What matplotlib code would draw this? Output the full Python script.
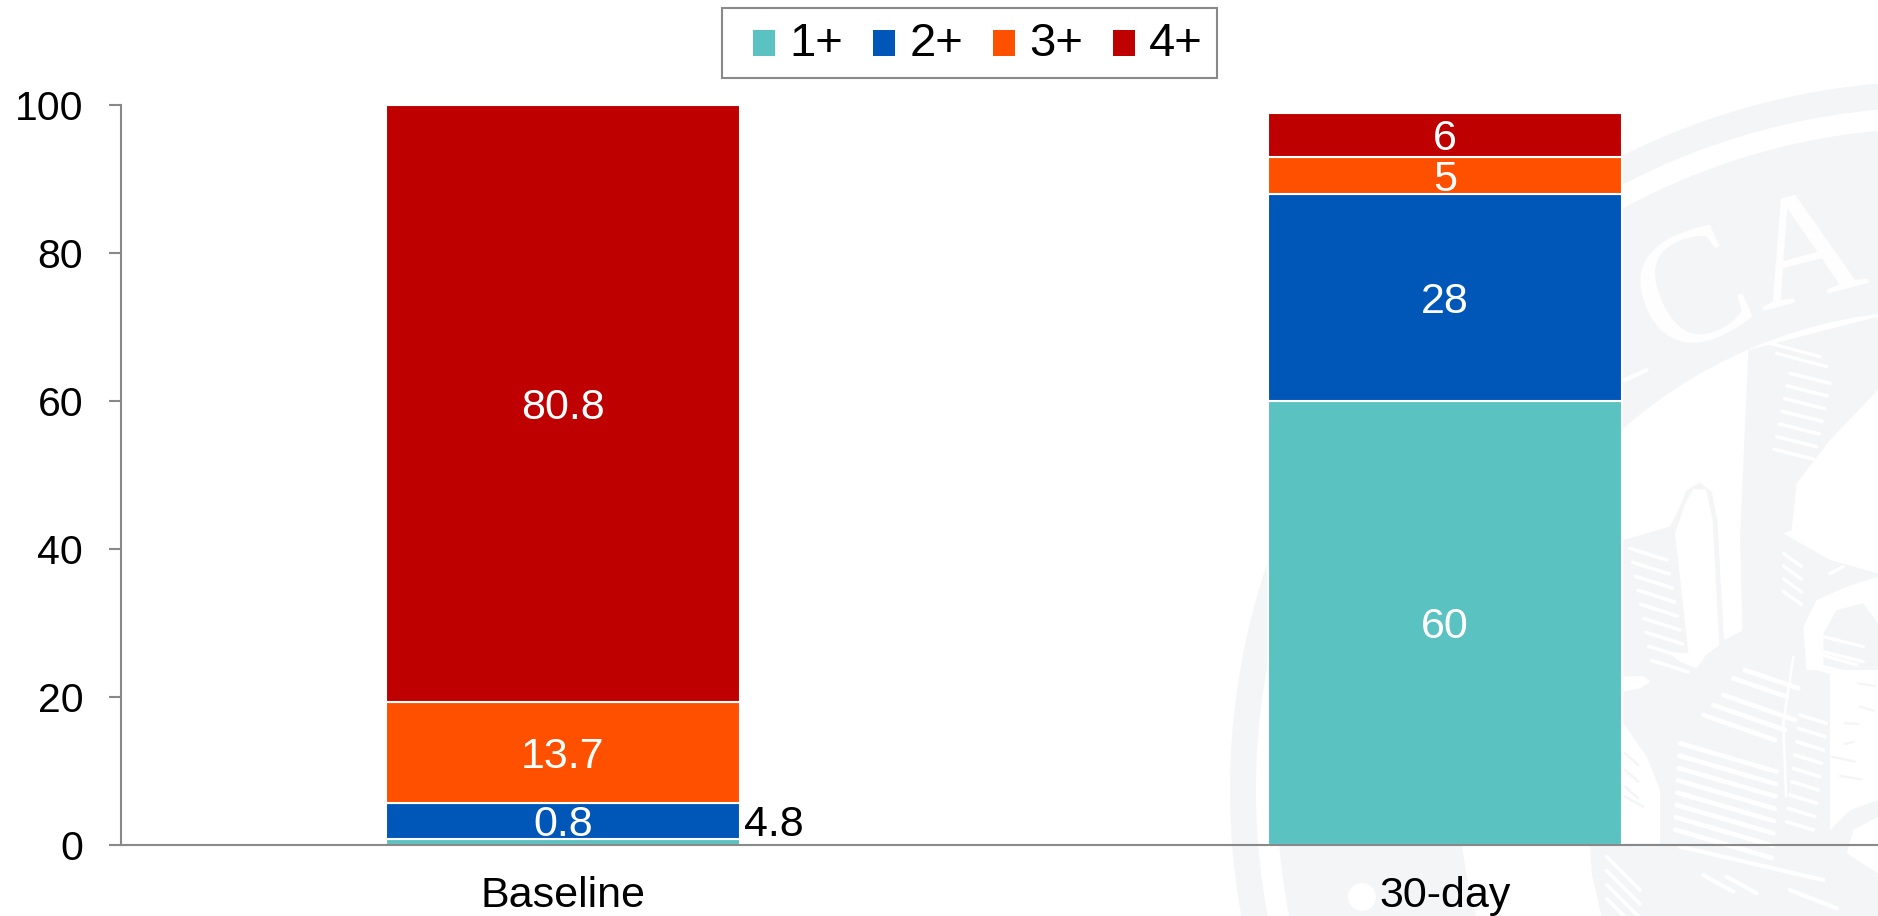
import matplotlib
matplotlib.use("Agg")
import matplotlib.pyplot as plt
from matplotlib.patches import Circle, Polygon, Rectangle

plt.rcParams['font.family'] = ['Liberation Sans', 'DejaVu Sans']

timepoints = ["Baseline", "30-day"]
grades = ["1+", "2+", "3+", "4+"]
grade_1 = [0.8, 60]
grade_2 = [4.8, 28]
grade_3 = [13.7, 5]
grade_4 = [80.8, 6]
colors = ["#5AC2C0", "#0057B8", "#FF5000", "#BE0000"]
y_ticks = [0, 20, 40, 60, 80, 100]

W, H = 1878, 916
SEAL = "#F4F5F7"
AXIS = "#898989"


def z5(x, y):
    return (1530 + x / 3, 70 + y / 3)


def z6(x, y):
    return (1530 + x / 3, 370 + y / 3)


def z7(x, y):
    return (1530 + x / 3, 640 + y / 3)


def shape(bg, conv, pts, color=SEAL):
    bg.add_patch(Polygon([conv(*p) for p in pts], closed=True, fc=color, ec="none"))


def strokes(bg, conv, start, end, step, n, lw=3.0, color="white"):
    # a run of parallel engraving lines
    for i in range(n):
        a = conv(start[0] + step[0] * i, start[1] + step[1] * i)
        b = conv(end[0] + step[0] * i, end[1] + step[1] * i)
        bg.plot([a[0], b[0]], [a[1], b[1]], color=color, lw=lw, solid_capstyle="round")


def draw_seal(bg):
    # rings of the seal
    centre = (1939, 790)
    for r, c in [(709, SEAL), (683, "white"), (662, SEAL), (480, "white")]:
        bg.add_patch(Circle(centre, r, fc=c, ec="none"))
    bg.add_patch(Circle((1362, 897), 14, fc="white", ec="none"))

    bg.text(1695, 299, "C", family="Liberation Serif", fontsize=118, color="white",
            rotation=24, ha="center", va="center")
    bg.text(1806, 260, "A", family="Liberation Serif", fontsize=112, color="white",
            rotation=15, ha="center", va="center")
    strokes(bg, z6, (285, 30), (350, 0), (0, 0), 1, lw=3.0)

    # column and shoulder at the top of the figure
    shape(bg, z6, [(655, -60), (1044, -160), (1044, 60), (900, 210), (800, 340), (785, 480),
                   (760, 490), (900, 570), (1044, 610), (1044, 900), (640, 900), (630, 500)])
    # left arm with its thin outline
    shape(bg, z6, [(280, 510), (420, 470), (450, 410), (470, 360), (510, 338), (545, 365),
                   (562, 450), (582, 810), (640, 780), (640, 900), (280, 900)])
    shape(bg, z6, [(435, 490), (468, 395), (490, 358), (528, 358), (548, 450),
                   (568, 825), (480, 890)], "white")
    # body below the column
    shape(bg, z7, [(280, 90), (900, 90), (900, 570), (960, 510), (1044, 480), (1044, 530),
                   (970, 570), (950, 640), (1044, 700), (1044, 830), (390, 830), (390, 450),
                   (350, 350), (280, 250)])
    shape(bg, z7, [(180, 610), (390, 610), (390, 830), (215, 830), (185, 700)])
    shape(bg, z7, [(280, 110), (340, 108), (362, 125), (330, 145), (280, 155)], "white")
    shape(bg, z7, [(410, 35), (470, 40), (560, 0), (500, 85), (450, 65)], "white")

    # rounded opening with the inner wing
    shape(bg, z6, [(820, 770), (860, 690), (950, 650), (1044, 620), (1044, 900), (830, 900)], "white")
    shape(bg, z6, [(880, 790), (920, 720), (1000, 700), (1044, 760), (1044, 900), (880, 900)])
    shape(bg, z7, [(900, 90), (1044, 90), (1044, 480), (960, 510), (900, 570)], "white")

    # white engraving
    strokes(bg, z6, (780, 10), (900, 40), (-8, 38), 7, lw=2.6)
    strokes(bg, z6, (300, 535), (410, 570), (8, 42), 9, lw=2.6)
    strokes(bg, z6, (760, 550), (815, 590), (0, 38), 4, lw=2.4)
    strokes(bg, z6, (900, 610), (940, 590), (60, -32), 3, lw=2.4)
    strokes(bg, z6, (880, 800), (1000, 830), (0, 45), 3, lw=2.4)
    strokes(bg, z7, (450, 310), (740, 395), (-2, 37), 8, lw=3.4)
    strokes(bg, z7, (520, 225), (735, 300), (30, -30), 3, lw=3.4)
    strokes(bg, z7, (610, 115), (770, 170), (35, -25), 2, lw=3.4)
    strokes(bg, z7, (810, 225), (890, 250), (-5, 40), 9, lw=2.6)
    strokes(bg, z7, (860, 40), (980, 75), (0, 45), 2, lw=2.4)
    strokes(bg, z7, (450, 620), (880, 720), (0, 35), 1, lw=3.0)
    strokes(bg, z7, (230, 650), (330, 750), (0, 42), 4, lw=2.6)
    strokes(bg, z7, (520, 705), (610, 755), (70, 5), 2, lw=3.0)
    strokes(bg, z7, (780, 750), (920, 805), (0, 40), 1, lw=3.0)
    strokes(bg, z7, (790, 50), (760, 250), (0, 0), 1, lw=1.8)
    strokes(bg, z7, (760, 250), (768, 470), (0, 0), 1, lw=1.8)
    strokes(bg, z5, (720, 820), (870, 860), (20, 30), 2, lw=2.4)

    # small seal marks inside the white areas
    for p, q in [((985, 130), (1035, 138)), ((990, 200), (1030, 212)), ((945, 250), (985, 252)),
                 ((945, 312), (970, 306)), ((905, 350), (975, 365)), ((930, 408), (995, 418))]:
        strokes(bg, z7, p, q, (0, 0), 1, lw=1.6, color=SEAL)
    strokes(bg, z7, (285, 340), (325, 375), (0, 50), 3, lw=1.8, color=SEAL)
    strokes(bg, z7, (285, 470), (340, 500), (0, 0), 1, lw=1.8, color=SEAL)


fig = plt.figure(figsize=(W / 100, H / 100), dpi=100, facecolor="white")

bg = fig.add_axes([0, 0, 1, 1])
bg.axis("off")
draw_seal(bg)
bg.set_xlim(0, W)
bg.set_ylim(H, 0)

ax = fig.add_axes([121.5 / W, 1 - 844.5 / H, (W - 121.5) / W, (844.5 - 105.3) / H])
ax.patch.set_visible(False)

x = [0, 1]
bottom = [0, 0]
for vals, label, col in zip([grade_1, grade_2, grade_3, grade_4], grades, colors):
    ax.bar(x, vals, width=0.402, bottom=bottom, color=col, edgecolor="white",
           linewidth=1.5, label=label, zorder=2, clip_on=False)
    for i in x:
        mid = bottom[i] + vals[i] / 2
        if i == 0 and label == "1+":
            # too thin for its value: written on the segment above
            mid = grade_1[0] + grade_2[0] / 2
            ax.text(i, mid, f"{vals[i]}", color="white", fontsize=31, ha="center",
                    va="center_baseline", zorder=4)
        elif i == 0 and label == "2+":
            ax.text(i + 0.205, mid, f"{vals[i]}", color="black", fontsize=31, ha="left",
                    va="center_baseline", zorder=4)
        else:
            ax.text(i, mid, f"{vals[i]}", color="white", fontsize=31, ha="center",
                    va="center_baseline", zorder=4)
    bottom = [b + v for b, v in zip(bottom, vals)]

ax.set_xlim((121.5 - 563) / 882, (W - 563) / 882)
ax.set_ylim(0, 100)
ax.set_xticks(x, timepoints)
ax.set_yticks(y_ticks)
ax.tick_params(axis="x", length=0, pad=23, labelsize=31)
ax.tick_params(axis="y", length=8.6, width=1.5, color=AXIS, pad=19, labelsize=29.5)
for side in ["top", "right"]:
    ax.spines[side].set_visible(False)
for side in ["left", "bottom"]:
    ax.spines[side].set_color(AXIS)
    ax.spines[side].set_linewidth(1.5)

# legend frame is wider on the left than the entries need
fig.add_artist(Rectangle((722 / W, 1 - 78 / H), 495 / W, 70 / H, transform=fig.transFigure,
                         fc="white", ec=AXIS, lw=1.5))
handles, labels = ax.get_legend_handles_labels()
leg = fig.legend(handles, labels, ncol=4, loc="center", fontsize=34,
                 bbox_to_anchor=(978 / W, 1 - 44.5 / H), frameon=False,
                 handlelength=0.465, handleheight=0.466, handletextpad=0.3,
                 columnspacing=0.63, borderpad=0, borderaxespad=0)
for patch in leg.get_patches():
    patch.set_edgecolor("none")
    patch.set_y(patch.get_y() - 2.2)

fig.savefig("out.png", dpi=100)
